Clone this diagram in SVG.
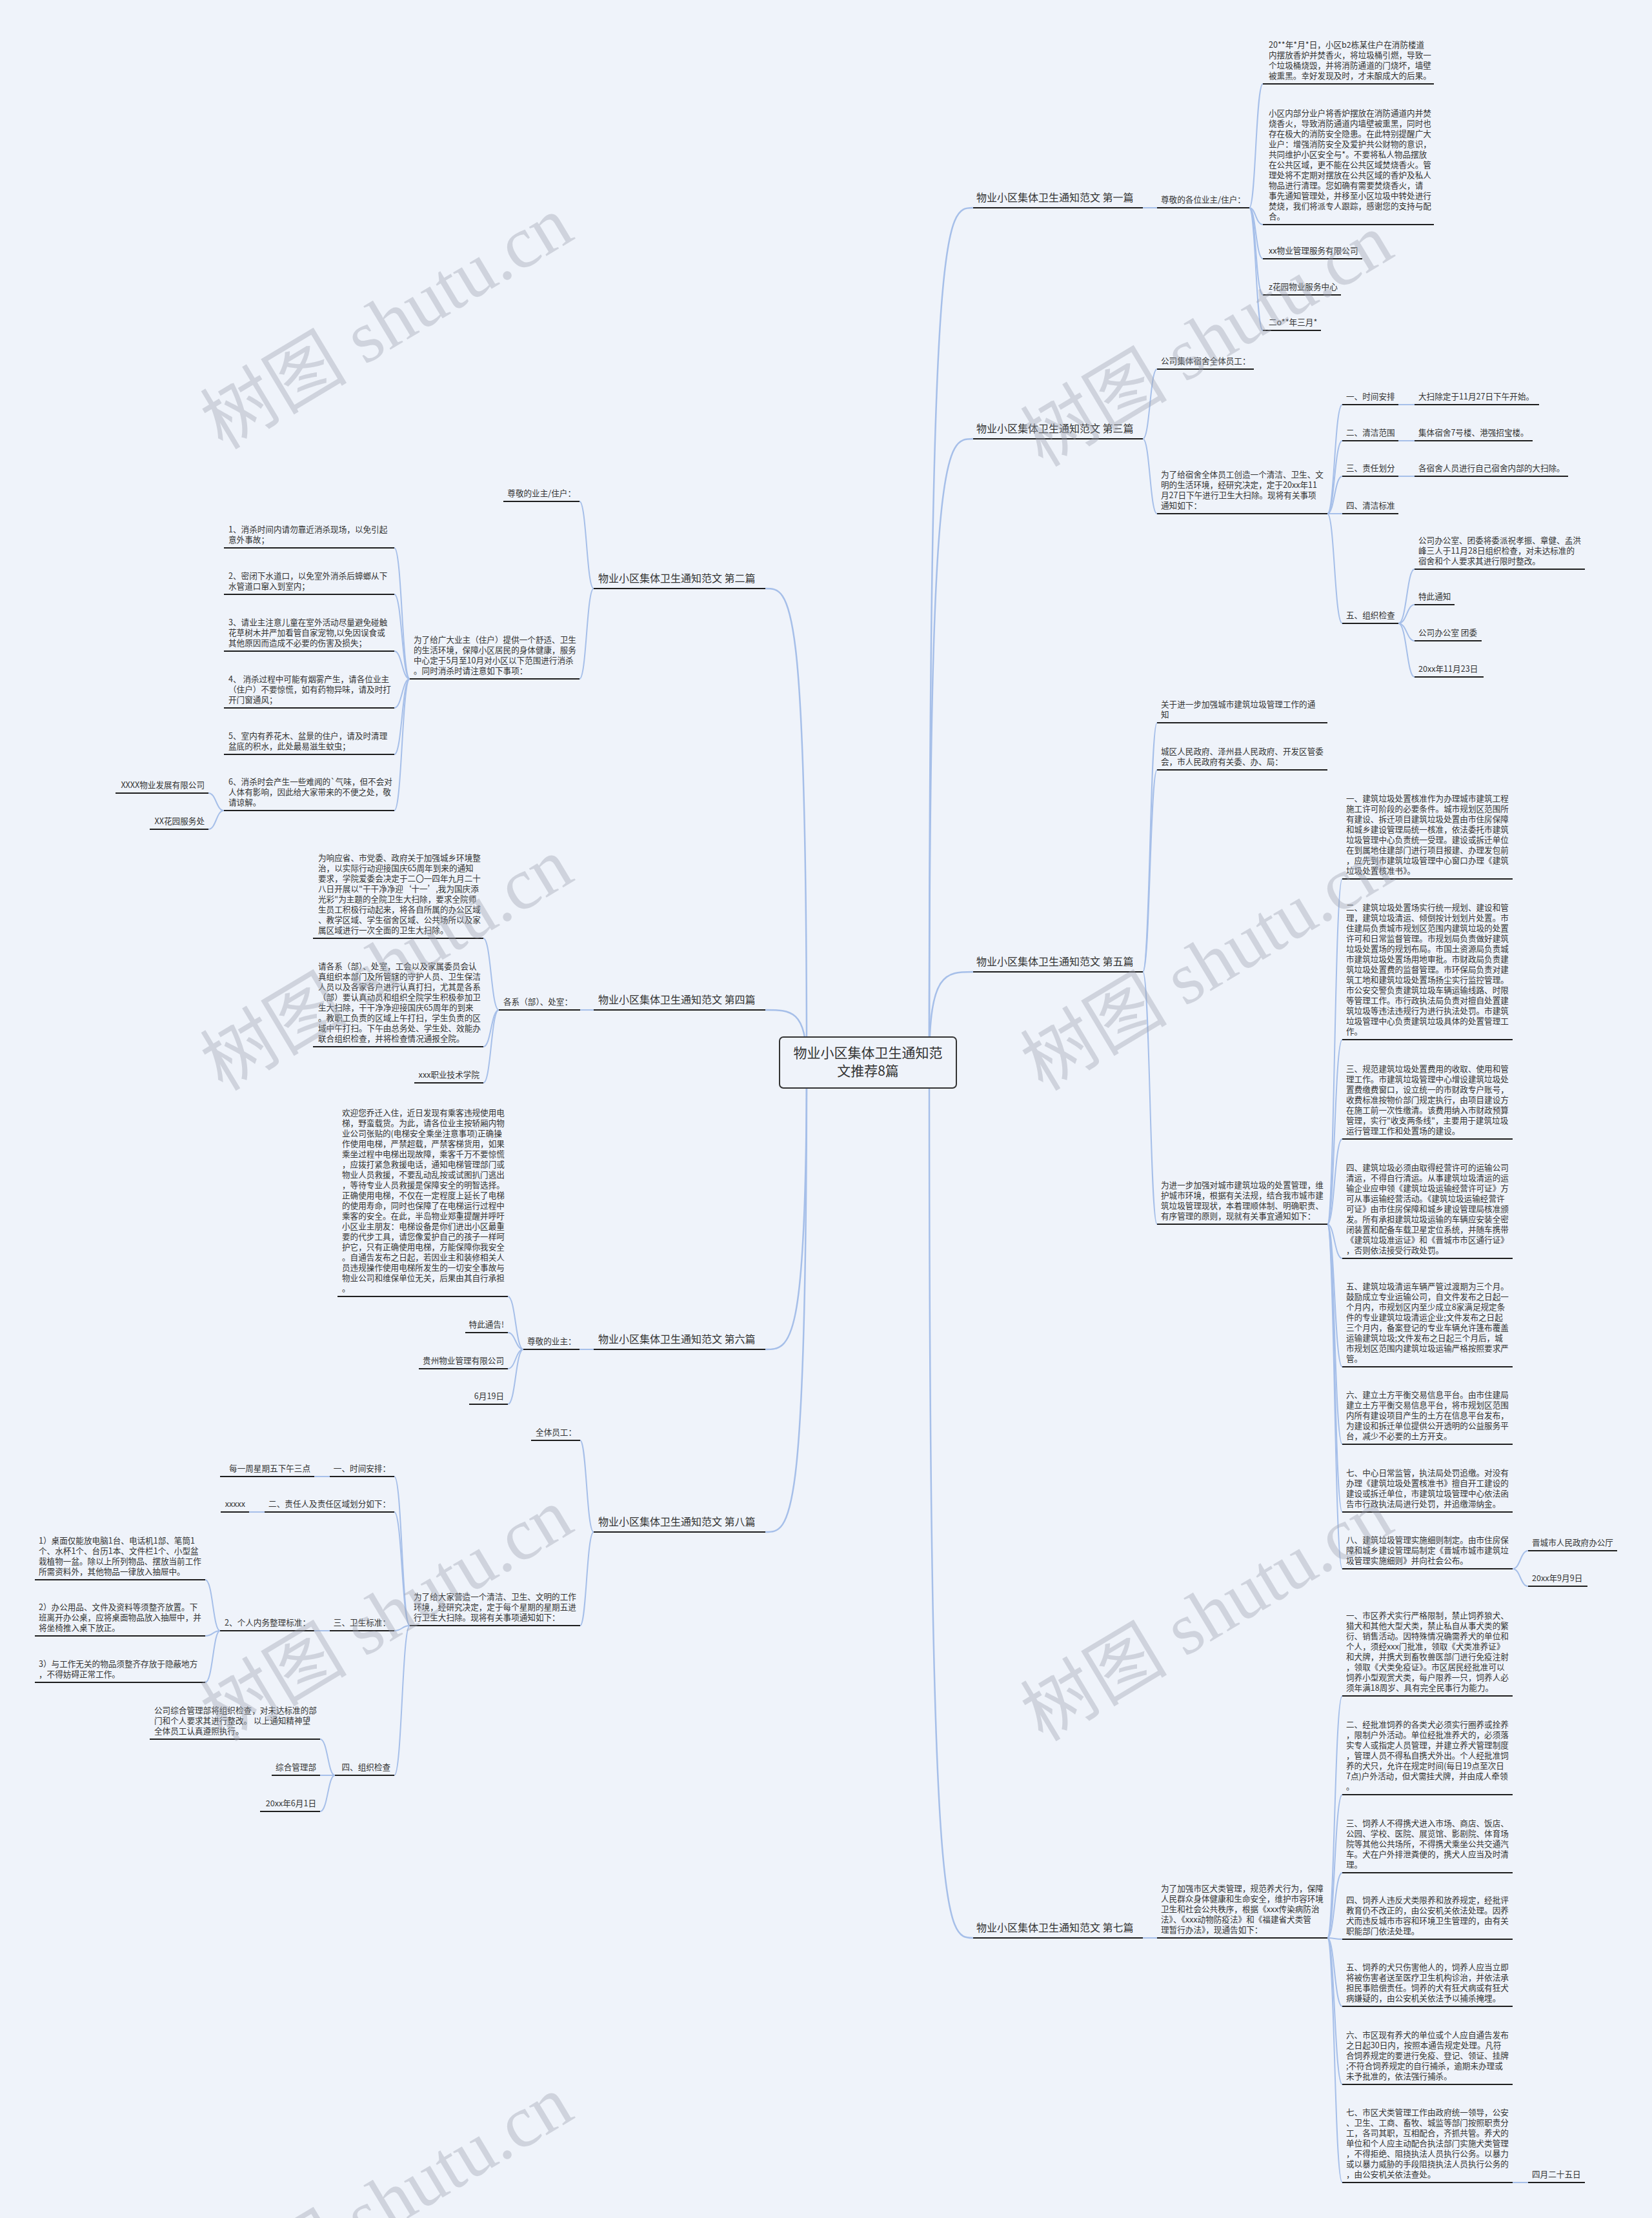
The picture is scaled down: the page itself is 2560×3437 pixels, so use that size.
<svg xmlns="http://www.w3.org/2000/svg" width="2560" height="3437" viewBox="0 0 2560 3437">
<style>
text{font-family:"Noto Sans CJK SC","Noto Sans",sans-serif;fill:#333;}
.t{font-size:12.6px;}
.e{font-size:12.6px;text-anchor:end;}
.b{font-size:16px;}
.r{font-size:21px;text-anchor:middle;}
.u{stroke:#1e1e1e;stroke-width:2;fill:none;}
.c{stroke:#a6bfe9;stroke-width:2;fill:none;}
.m{stroke:#a6bfe9;stroke-width:2.5;fill:none;}
.w{font-family:"Liberation Serif","Noto Sans CJK SC",serif;font-size:114px;fill:#9aa1ad;fill-opacity:0.38;}
</style>
<rect width="2560" height="3437" fill="#eff3fa"/>

<g id="connectors">
<path class="m" d="M1440 1646 C1440 322 1465 322 1508 322"/>
<path class="m" d="M1440 1646 C1440 680 1465 680 1508 680"/>
<path class="m" d="M1440 1646 C1440 1506 1465 1506 1508 1506"/>
<path class="m" d="M1440 1646 C1440 3003 1465 3003 1508 3003"/>
<path class="m" d="M1250 1646 C1250 912 1225 912 1186 912"/>
<path class="m" d="M1250 1646 C1250 1565 1225 1565 1186 1565"/>
<path class="m" d="M1250 1646 C1250 2091 1225 2091 1186 2091"/>
<path class="m" d="M1250 1646 C1250 2374 1225 2374 1186 2374"/>
<!-- p1 -->
<path class="c" d="M1771 322 H1793"/>
<path class="c" d="M1936 322 C1946 322 1946 130 1957 130"/>
<path class="c" d="M1936 322 C1946 322 1946 348 1957 348"/>
<path class="c" d="M1936 322 C1946 322 1946 401 1957 401"/>
<path class="c" d="M1936 322 C1946 322 1946 457 1957 457"/>
<path class="c" d="M1936 322 C1946 322 1946 512 1957 512"/>
<!-- p3 -->
<path class="c" d="M1771 680 C1782 680 1782 572 1793 572"/>
<path class="c" d="M1771 680 C1782 680 1782 796 1793 796"/>
<path class="c" d="M2057 796 C2068 796 2068 627 2080 627"/>
<path class="c" d="M2057 796 C2068 796 2068 683 2080 683"/>
<path class="c" d="M2057 796 C2068 796 2068 738 2080 738"/>
<path class="c" d="M2057 796 H2080"/>
<path class="c" d="M2057 796 C2068 796 2068 966 2080 966"/>
<path class="c" d="M2167 627 H2192 M2167 683 H2192 M2167 738 H2192"/>
<path class="c" d="M2167 966 C2180 966 2180 882 2192 882"/>
<path class="c" d="M2167 966 C2180 966 2180 937 2192 937"/>
<path class="c" d="M2167 966 C2180 966 2180 993 2192 993"/>
<path class="c" d="M2167 966 C2180 966 2180 1049 2192 1049"/>
<!-- p5 -->
<path class="c" d="M1771 1506 C1782 1506 1782 1120 1793 1120"/>
<path class="c" d="M1771 1506 C1782 1506 1782 1193 1793 1193"/>
<path class="c" d="M1771 1506 C1782 1506 1782 1897 1793 1897"/>
<path class="c" d="M2057 1897 C2068 1897 2068 1362 2080 1362"/>
<path class="c" d="M2057 1897 C2068 1897 2068 1611 2080 1611"/>
<path class="c" d="M2057 1897 C2068 1897 2068 1765 2080 1765"/>
<path class="c" d="M2057 1897 C2068 1897 2068 1950 2080 1950"/>
<path class="c" d="M2057 1897 C2068 1897 2068 2118 2080 2118"/>
<path class="c" d="M2057 1897 C2068 1897 2068 2238 2080 2238"/>
<path class="c" d="M2057 1897 C2068 1897 2068 2343 2080 2343"/>
<path class="c" d="M2057 1897 C2068 1897 2068 2431 2080 2431"/>
<path class="c" d="M2344 2431 C2356 2431 2356 2403 2368 2403"/>
<path class="c" d="M2344 2431 C2356 2431 2356 2458 2368 2458"/>
<!-- p7 -->
<path class="c" d="M1771 3003 H1793"/>
<path class="c" d="M2057 3003 C2068 3003 2068 2628 2080 2628"/>
<path class="c" d="M2057 3003 C2068 3003 2068 2781 2080 2781"/>
<path class="c" d="M2057 3003 C2068 3003 2068 2902 2080 2902"/>
<path class="c" d="M2057 3003 C2068 3003 2068 3005 2080 3005"/>
<path class="c" d="M2057 3003 C2068 3003 2068 3109 2080 3109"/>
<path class="c" d="M2057 3003 C2068 3003 2068 3230 2080 3230"/>
<path class="c" d="M2057 3003 C2068 3003 2068 3382 2080 3382"/>
<path class="c" d="M2344 3382 H2368"/>
<!-- p2 -->
<path class="c" d="M920 912 C909 912 909 777 898 777"/>
<path class="c" d="M920 912 C909 912 909 1052 898 1052"/>
<path class="c" d="M635 1052 C623 1052 623 849 611 849"/>
<path class="c" d="M635 1052 C623 1052 623 921 611 921"/>
<path class="c" d="M635 1052 C623 1052 623 1009 611 1009"/>
<path class="c" d="M635 1052 C623 1052 623 1097 611 1097"/>
<path class="c" d="M635 1052 C623 1052 623 1169 611 1169"/>
<path class="c" d="M635 1052 C623 1052 623 1256 611 1256"/>
<path class="c" d="M347 1256 C335 1256 335 1229 323 1229"/>
<path class="c" d="M347 1256 C335 1256 335 1285 323 1285"/>
<!-- p4 -->
<path class="c" d="M920 1565 H899"/>
<path class="c" d="M773 1565 C761 1565 761 1454 749 1454"/>
<path class="c" d="M773 1565 C761 1565 761 1622 749 1622"/>
<path class="c" d="M773 1565 C761 1565 761 1678 749 1678"/>
<!-- p6 -->
<path class="c" d="M920 2091 H898"/>
<path class="c" d="M811 2091 C799 2091 799 2009 787 2009"/>
<path class="c" d="M811 2091 C799 2091 799 2065 787 2065"/>
<path class="c" d="M811 2091 C799 2091 799 2121 787 2121"/>
<path class="c" d="M811 2091 C799 2091 799 2176 787 2176"/>
<!-- p8 -->
<path class="c" d="M920 2374 C909 2374 909 2232 899 2232"/>
<path class="c" d="M920 2374 C909 2374 909 2519 899 2519"/>
<path class="c" d="M635 2519 C623 2519 623 2288 611 2288"/>
<path class="c" d="M635 2519 C623 2519 623 2343 611 2343"/>
<path class="c" d="M635 2519 C623 2519 623 2527 611 2527"/>
<path class="c" d="M635 2519 C623 2519 623 2751 611 2751"/>
<path class="c" d="M511 2288 H487 M410 2343 H386 M511 2527 H487"/>
<path class="c" d="M341 2527 C330 2527 330 2448 318 2448"/>
<path class="c" d="M341 2527 C330 2527 330 2535 318 2535"/>
<path class="c" d="M341 2527 C330 2527 330 2607 318 2607"/>
<path class="c" d="M519 2751 C508 2751 508 2695 496 2695"/>
<path class="c" d="M519 2751 H496"/>
<path class="c" d="M519 2751 C508 2751 508 2807 496 2807"/>
</g>

<g id="root">
<rect x="1208" y="1607" width="274" height="79" rx="6" fill="#eff3fa" stroke="#333" stroke-width="2"/>
<text class="r"><tspan x="1345" y="1639">物业小区集体卫生通知范</tspan><tspan x="1345" y="1667">文推荐8篇</tspan></text>
</g>

<!-- ============ 第一篇 ============ -->
<g id="p1">
<text class="b" x="1513" y="312">物业小区集体卫生通知范文 第一篇</text>
<path class="u" d="M1508 322 H1771"/>
</g>
<g id="p1-a">
<text class="t" x="1799" y="314">尊敬的各位业主/住户：</text>
<path class="u" d="M1793 322 H1936"/>
</g>
<g id="p1-l1">
<text class="t"><tspan x="1966" y="74">20**年*月*日，小区b2栋某住户在消防楼道</tspan><tspan x="1966" y="90">内摆放香炉并焚香火，将垃圾桶引燃，导致一</tspan><tspan x="1966" y="106">个垃圾桶烧毁，并将消防通道的门烧坏，墙壁</tspan><tspan x="1966" y="122">被熏黑。幸好发现及时，才未酿成大的后果。</tspan></text>
<path class="u" d="M1957 130 H2222"/>
</g>
<g id="p1-l2">
<text class="t"><tspan x="1966" y="180">小区内部分业户将香炉摆放在消防通道内并焚</tspan><tspan x="1966" y="196">烧香火，导致消防通道内墙壁被熏黑，同时也</tspan><tspan x="1966" y="212">存在极大的消防安全隐患。在此特别提醒广大</tspan><tspan x="1966" y="228">业户：增强消防安全及爱护共公财物的意识，</tspan><tspan x="1966" y="244">共同维护小区安全与*。不要将私人物品摆放</tspan><tspan x="1966" y="260">在公共区域，更不能在公共区域焚烧香火。管</tspan><tspan x="1966" y="276">理处将不定期对摆放在公共区域的香炉及私人</tspan><tspan x="1966" y="292">物品进行清理。您如确有需要焚烧香火，请</tspan><tspan x="1966" y="308">事先通知管理处，并移至小区垃圾中转处进行</tspan><tspan x="1966" y="324">焚烧，我们将派专人跟踪，感谢您的支持与配</tspan><tspan x="1966" y="340">合。</tspan></text>
<path class="u" d="M1957 348 H2222"/>
</g>
<g id="p1-l3"><text class="t" x="1966" y="393">xx物业管理服务有限公司</text><path class="u" d="M1957 401 H2111"/></g>
<g id="p1-l4"><text class="t" x="1966" y="449">z花园物业服务中心</text><path class="u" d="M1957 457 H2078"/></g>
<g id="p1-l5"><text class="t" x="1966" y="504">二o**年三月*</text><path class="u" d="M1957 512 H2047"/></g>

<!-- ============ 第三篇 ============ -->
<g id="p3">
<text class="b" x="1513" y="670">物业小区集体卫生通知范文 第三篇</text>
<path class="u" d="M1508 680 H1771"/>
</g>
<g id="p3-a"><text class="t" x="1799" y="564">公司集体宿舍全体员工：</text><path class="u" d="M1793 572 H1943"/></g>
<g id="p3-b">
<text class="t"><tspan x="1799" y="740">为了给宿舍全体员工创造一个清洁、卫生、文</tspan><tspan x="1799" y="756">明的生活环境，经研究决定，定于20xx年11</tspan><tspan x="1799" y="772">月27日下午进行卫生大扫除。现将有关事项</tspan><tspan x="1799" y="788">通知如下：</tspan></text>
<path class="u" d="M1793 796 H2057"/>
</g>
<g id="p3-s1"><text class="t" x="2086" y="619">一、时间安排</text><path class="u" d="M2080 627 H2167"/></g>
<g id="p3-s2"><text class="t" x="2086" y="675">二、清洁范围</text><path class="u" d="M2080 683 H2167"/></g>
<g id="p3-s3"><text class="t" x="2086" y="730">三、责任划分</text><path class="u" d="M2080 738 H2167"/></g>
<g id="p3-s4"><text class="t" x="2086" y="788">四、清洁标准</text><path class="u" d="M2080 796 H2167"/></g>
<g id="p3-s5"><text class="t" x="2086" y="958">五、组织检查</text><path class="u" d="M2080 966 H2167"/></g>
<g id="p3-l1"><text class="t" x="2198" y="619">大扫除定于11月27日下午开始。</text><path class="u" d="M2192 627 H2385"/></g>
<g id="p3-l2"><text class="t" x="2198" y="675">集体宿舍7号楼、港强招宝楼。</text><path class="u" d="M2192 683 H2375"/></g>
<g id="p3-l3"><text class="t" x="2198" y="730">各宿舍人员进行自己宿舍内部的大扫除。</text><path class="u" d="M2192 738 H2430"/></g>
<g id="p3-l4">
<text class="t"><tspan x="2198" y="842">公司办公室、团委将委派祝孝振、章健、孟洪</tspan><tspan x="2198" y="858">峰三人于11月28日组织检查，对未达标准的</tspan><tspan x="2198" y="874">宿舍和个人要求其进行限时整改。</tspan></text>
<path class="u" d="M2192 882 H2456"/>
</g>
<g id="p3-l5"><text class="t" x="2198" y="929">特此通知</text><path class="u" d="M2192 937 H2254"/></g>
<g id="p3-l6"><text class="t" x="2198" y="985">公司办公室 团委</text><path class="u" d="M2192 993 H2296"/></g>
<g id="p3-l7"><text class="t" x="2198" y="1041">20xx年11月23日</text><path class="u" d="M2192 1049 H2299"/></g>

<!-- ============ 第五篇 ============ -->
<g id="p5">
<text class="b" x="1513" y="1496">物业小区集体卫生通知范文 第五篇</text>
<path class="u" d="M1508 1506 H1771"/>
</g>
<g id="p5-a">
<text class="t"><tspan x="1799" y="1096">关于进一步加强城市建筑垃圾管理工作的通</tspan><tspan x="1799" y="1112">知</tspan></text>
<path class="u" d="M1793 1120 H2057"/>
</g>
<g id="p5-b">
<text class="t"><tspan x="1799" y="1169">城区人民政府、泽州县人民政府、开发区管委</tspan><tspan x="1799" y="1185">会，市人民政府有关委、办、局：</tspan></text>
<path class="u" d="M1793 1193 H2057"/>
</g>
<g id="p5-c">
<text class="t"><tspan x="1799" y="1841">为进一步加强对城市建筑垃圾的处置管理，维</tspan><tspan x="1799" y="1857">护城市环境，根据有关法规，结合我市城市建</tspan><tspan x="1799" y="1873">筑垃圾管理现状，本着理顺体制、明确职责、</tspan><tspan x="1799" y="1889">有序管理的原则，现就有关事宜通知如下：</tspan></text>
<path class="u" d="M1793 1897 H2057"/>
</g>
<g id="p5-l1">
<text class="t"><tspan x="2086" y="1242">一、建筑垃圾处置核准作为办理城市建筑工程</tspan><tspan x="2086" y="1258">施工许可阶段的必要条件。城市规划区范围所</tspan><tspan x="2086" y="1274">有建设、拆迁项目建筑垃圾处置由市住房保障</tspan><tspan x="2086" y="1290">和城乡建设管理局统一核准，依法委托市建筑</tspan><tspan x="2086" y="1306">垃圾管理中心负责统一受理。建设或拆迁单位</tspan><tspan x="2086" y="1322">在到属地住建部门进行项目报建、办理发包前</tspan><tspan x="2086" y="1338">，应先到市建筑垃圾管理中心窗口办理《建筑</tspan><tspan x="2086" y="1354">垃圾处置核准书》。</tspan></text>
<path class="u" d="M2080 1362 H2344"/>
</g>
<g id="p5-l2">
<text class="t"><tspan x="2086" y="1411">二、建筑垃圾处置场实行统一规划、建设和管</tspan><tspan x="2086" y="1427">理，建筑垃圾清运、倾倒按计划划片处置。市</tspan><tspan x="2086" y="1443">住建局负责城市规划区范围内建筑垃圾的处置</tspan><tspan x="2086" y="1459">许可和日常监督管理。市规划局负责做好建筑</tspan><tspan x="2086" y="1475">垃圾处置场的规划布局。市国土资源局负责城</tspan><tspan x="2086" y="1491">市建筑垃圾处置场用地审批。市财政局负责建</tspan><tspan x="2086" y="1507">筑垃圾处置费的监督管理。市环保局负责对建</tspan><tspan x="2086" y="1523">筑工地和建筑垃圾处置场扬尘实行监控管理。</tspan><tspan x="2086" y="1539">市公安交警负责建筑垃圾车辆运输线路、时限</tspan><tspan x="2086" y="1555">等管理工作。市行政执法局负责对擅自处置建</tspan><tspan x="2086" y="1571">筑垃圾等违法违规行为进行执法处罚。市建筑</tspan><tspan x="2086" y="1587">垃圾管理中心负责建筑垃圾具体的处置管理工</tspan><tspan x="2086" y="1603">作。</tspan></text>
<path class="u" d="M2080 1611 H2344"/>
</g>
<g id="p5-l3">
<text class="t"><tspan x="2086" y="1661">三、规范建筑垃圾处置费用的收取、使用和管</tspan><tspan x="2086" y="1677">理工作。市建筑垃圾管理中心增设建筑垃圾处</tspan><tspan x="2086" y="1693">置费缴费窗口，设立统一的市财政专户账号，</tspan><tspan x="2086" y="1709">收费标准按物价部门规定执行，由项目建设方</tspan><tspan x="2086" y="1725">在施工前一次性缴清。该费用纳入市财政预算</tspan><tspan x="2086" y="1741">管理，实行"收支两条线"，主要用于建筑垃圾</tspan><tspan x="2086" y="1757">运行管理工作和处置场的建设。</tspan></text>
<path class="u" d="M2080 1765 H2344"/>
</g>
<g id="p5-l4">
<text class="t"><tspan x="2086" y="1814">四、建筑垃圾必须由取得经营许可的运输公司</tspan><tspan x="2086" y="1830">清运，不得自行清运。从事建筑垃圾清运的运</tspan><tspan x="2086" y="1846">输企业应申领《建筑垃圾运输经营许可证》方</tspan><tspan x="2086" y="1862">可从事运输经营活动。《建筑垃圾运输经营许</tspan><tspan x="2086" y="1878">可证》由市住房保障和城乡建设管理局核准颁</tspan><tspan x="2086" y="1894">发。所有承担建筑垃圾运输的车辆应安装全密</tspan><tspan x="2086" y="1910">闭装置和配备车载卫星定位系统，并随车携带</tspan><tspan x="2086" y="1926">《建筑垃圾准运证》和《晋城市市区通行证》</tspan><tspan x="2086" y="1942">，否则依法接受行政处罚。</tspan></text>
<path class="u" d="M2080 1950 H2344"/>
</g>
<g id="p5-l5">
<text class="t"><tspan x="2086" y="1998">五、建筑垃圾清运车辆严管过渡期为三个月。</tspan><tspan x="2086" y="2014">鼓励成立专业运输公司，自文件发布之日起一</tspan><tspan x="2086" y="2030">个月内，市规划区内至少成立8家满足规定条</tspan><tspan x="2086" y="2046">件的专业建筑垃圾清运企业;文件发布之日起</tspan><tspan x="2086" y="2062">三个月内，备案登记的专业车辆允许篷布覆盖</tspan><tspan x="2086" y="2078">运输建筑垃圾;文件发布之日起三个月后，城</tspan><tspan x="2086" y="2094">市规划区范围内建筑垃圾运输严格按照要求严</tspan><tspan x="2086" y="2110">管。</tspan></text>
<path class="u" d="M2080 2118 H2344"/>
</g>
<g id="p5-l6">
<text class="t"><tspan x="2086" y="2166">六、建立土方平衡交易信息平台。由市住建局</tspan><tspan x="2086" y="2182">建立土方平衡交易信息平台，将市规划区范围</tspan><tspan x="2086" y="2198">内所有建设项目产生的土方在信息平台发布，</tspan><tspan x="2086" y="2214">为建设和拆迁单位提供公开透明的公益服务平</tspan><tspan x="2086" y="2230">台，减少不必要的土方开支。</tspan></text>
<path class="u" d="M2080 2238 H2344"/>
</g>
<g id="p5-l7">
<text class="t"><tspan x="2086" y="2287">七、中心日常监管，执法局处罚追缴。对没有</tspan><tspan x="2086" y="2303">办理《建筑垃圾处置核准书》擅自开工建设的</tspan><tspan x="2086" y="2319">建设或拆迁单位，市建筑垃圾管理中心依法函</tspan><tspan x="2086" y="2335">告市行政执法局进行处罚，并追缴滞纳金。</tspan></text>
<path class="u" d="M2080 2343 H2344"/>
</g>
<g id="p5-l8">
<text class="t"><tspan x="2086" y="2391">八、建筑垃圾管理实施细则制定。由市住房保</tspan><tspan x="2086" y="2407">障和城乡建设管理局制定《晋城市城市建筑垃</tspan><tspan x="2086" y="2423">圾管理实施细则》并向社会公布。</tspan></text>
<path class="u" d="M2080 2431 H2344"/>
</g>
<g id="p5-l9"><text class="t" x="2374" y="2395">晋城市人民政府办公厅</text><path class="u" d="M2368 2403 H2506"/></g>
<g id="p5-l10"><text class="t" x="2374" y="2450">20xx年9月9日</text><path class="u" d="M2368 2458 H2460"/></g>

<!-- ============ 第七篇 ============ -->
<g id="p7">
<text class="b" x="1513" y="2993">物业小区集体卫生通知范文 第七篇</text>
<path class="u" d="M1508 3003 H1771"/>
</g>
<g id="p7-a">
<text class="t"><tspan x="1799" y="2931">为了加强市区犬类管理，规范养犬行为，保障</tspan><tspan x="1799" y="2947">人民群众身体健康和生命安全，维护市容环境</tspan><tspan x="1799" y="2963">卫生和社会公共秩序，根据《xxx传染病防治</tspan><tspan x="1799" y="2979">法》、《xxx动物防疫法》和《福建省犬类管</tspan><tspan x="1799" y="2995">理暂行办法》，现通告如下：</tspan></text>
<path class="u" d="M1793 3003 H2057"/>
</g>
<g id="p7-l1">
<text class="t"><tspan x="2086" y="2508">一、市区养犬实行严格限制，禁止饲养狼犬、</tspan><tspan x="2086" y="2524">猎犬和其他大型犬类，禁止私自从事犬类的繁</tspan><tspan x="2086" y="2540">衍、销售活动。因特殊情况确需养犬的单位和</tspan><tspan x="2086" y="2556">个人，须经xxx门批准，领取《犬类准养证》</tspan><tspan x="2086" y="2572">和犬牌，并携犬到畜牧兽医部门进行免疫注射</tspan><tspan x="2086" y="2588">，领取《犬类免疫证》。市区居民经批准可以</tspan><tspan x="2086" y="2604">饲养小型观赏犬类，每户限养一只，饲养人必</tspan><tspan x="2086" y="2620">须年满18周岁、具有完全民事行为能力。</tspan></text>
<path class="u" d="M2080 2628 H2344"/>
</g>
<g id="p7-l2">
<text class="t"><tspan x="2086" y="2677">二、经批准饲养的各类犬必须实行圈养或拴养</tspan><tspan x="2086" y="2693">，限制户外活动。单位经批准养犬的，必须落</tspan><tspan x="2086" y="2709">实专人或指定人员管理，并建立养犬管理制度</tspan><tspan x="2086" y="2725">，管理人员不得私自携犬外出。个人经批准饲</tspan><tspan x="2086" y="2741">养的犬只，允许在规定时间(每日19点至次日</tspan><tspan x="2086" y="2757">7点)户外活动，但犬需挂犬牌，并由成人牵领</tspan><tspan x="2086" y="2773">。</tspan></text>
<path class="u" d="M2080 2781 H2344"/>
</g>
<g id="p7-l3">
<text class="t"><tspan x="2086" y="2830">三、饲养人不得携犬进入市场、商店、饭店、</tspan><tspan x="2086" y="2846">公园、学校、医院、展览馆、影剧院、体育场</tspan><tspan x="2086" y="2862">院等其他公共场所，不得携犬乘坐公共交通汽</tspan><tspan x="2086" y="2878">车。犬在户外排泄粪便的，携犬人应当及时清</tspan><tspan x="2086" y="2894">理。</tspan></text>
<path class="u" d="M2080 2902 H2344"/>
</g>
<g id="p7-l4">
<text class="t"><tspan x="2086" y="2949">四、饲养人违反犬类限养和放养规定，经批评</tspan><tspan x="2086" y="2965">教育仍不改正的，由公安机关依法处理。因养</tspan><tspan x="2086" y="2981">犬而违反城市市容和环境卫生管理的，由有关</tspan><tspan x="2086" y="2997">职能部门依法处理。</tspan></text>
<path class="u" d="M2080 3005 H2344"/>
</g>
<g id="p7-l5">
<text class="t"><tspan x="2086" y="3053">五、饲养的犬只伤害他人的，饲养人应当立即</tspan><tspan x="2086" y="3069">将被伤害者送至医疗卫生机构诊治，并依法承</tspan><tspan x="2086" y="3085">担民事赔偿责任。饲养的犬有狂犬病或有狂犬</tspan><tspan x="2086" y="3101">病嫌疑的，由公安机关依法予以捕杀掩埋。</tspan></text>
<path class="u" d="M2080 3109 H2344"/>
</g>
<g id="p7-l6">
<text class="t"><tspan x="2086" y="3158">六、市区现有养犬的单位或个人应自通告发布</tspan><tspan x="2086" y="3174">之日起30日内，按照本通告规定处理。凡符</tspan><tspan x="2086" y="3190">合饲养规定的要进行免疫、登记、领证、挂牌</tspan><tspan x="2086" y="3206">;不符合饲养规定的自行捕杀，逾期未办理或</tspan><tspan x="2086" y="3222">未予批准的，依法强行捕杀。</tspan></text>
<path class="u" d="M2080 3230 H2344"/>
</g>
<g id="p7-l7">
<text class="t"><tspan x="2086" y="3278">七、市区犬类管理工作由政府统一领导，公安</tspan><tspan x="2086" y="3294">、卫生、工商、畜牧、城监等部门按照职责分</tspan><tspan x="2086" y="3310">工，各司其职，互相配合，齐抓共管。养犬的</tspan><tspan x="2086" y="3326">单位和个人应主动配合执法部门实施犬类管理</tspan><tspan x="2086" y="3342">，不得拒绝、阻挠执法人员执行公务。以暴力</tspan><tspan x="2086" y="3358">或以暴力威胁的手段阻挠执法人员执行公务的</tspan><tspan x="2086" y="3374">，由公安机关依法查处。</tspan></text>
<path class="u" d="M2080 3382 H2344"/>
</g>
<g id="p7-l8"><text class="t" x="2374" y="3374">四月二十五日</text><path class="u" d="M2368 3382 H2456"/></g>

<!-- ============ 第二篇 ============ -->
<g id="p2">
<text class="b" x="927" y="902">物业小区集体卫生通知范文 第二篇</text>
<path class="u" d="M920 912 H1186"/>
</g>
<g id="p2-a"><text class="e" x="892" y="769">尊敬的业主/住户：</text><path class="u" d="M780 777 H898"/></g>
<g id="p2-b">
<text class="t"><tspan x="641" y="996">为了给广大业主（住户）提供一个舒适、卫生</tspan><tspan x="641" y="1012">的生活环境，保障小区居民的身体健康，服务</tspan><tspan x="641" y="1028">中心定于5月至10月对小区以下范围进行消杀</tspan><tspan x="641" y="1044">。同时消杀时请注意如下事项：</tspan></text>
<path class="u" d="M635 1052 H898"/>
</g>
<g id="p2-l1">
<text class="t"><tspan x="354" y="825">1、消杀时间内请勿靠近消杀现场，以免引起</tspan><tspan x="354" y="841">意外事故；</tspan></text>
<path class="u" d="M347 849 H611"/>
</g>
<g id="p2-l2">
<text class="t"><tspan x="354" y="897">2、密闭下水道口，以免室外消杀后蟑螂从下</tspan><tspan x="354" y="913">水管道口窜入到室内；</tspan></text>
<path class="u" d="M347 921 H611"/>
</g>
<g id="p2-l3">
<text class="t"><tspan x="354" y="969">3、请业主注意儿童在室外活动尽量避免碰触</tspan><tspan x="354" y="985">花草树木并严加看管自家宠物,以免因误食或</tspan><tspan x="354" y="1001">其他原因而造成不必要的伤害及损失；</tspan></text>
<path class="u" d="M347 1009 H611"/>
</g>
<g id="p2-l4">
<text class="t"><tspan x="354" y="1057">4、 消杀过程中可能有烟雾产生，请各位业主</tspan><tspan x="354" y="1073">（住户）不要惊慌，如有药物异味，请及时打</tspan><tspan x="354" y="1089">开门窗通风；</tspan></text>
<path class="u" d="M347 1097 H611"/>
</g>
<g id="p2-l5">
<text class="t"><tspan x="354" y="1145">5、室内有养花木、盆景的住户，请及时清理</tspan><tspan x="354" y="1161">盆底的积水，此处最易滋生蚊虫；</tspan></text>
<path class="u" d="M347 1169 H611"/>
</g>
<g id="p2-l6">
<text class="t"><tspan x="354" y="1216">6、消杀时会产生一些难闻的`气味，但不会对</tspan><tspan x="354" y="1232">人体有影响，因此给大家带来的不便之处，敬</tspan><tspan x="354" y="1248">请谅解。</tspan></text>
<path class="u" d="M347 1256 H611"/>
</g>
<g id="p2-l7"><text class="e" x="317" y="1221">XXXX物业发展有限公司</text><path class="u" d="M179 1229 H323"/></g>
<g id="p2-l8"><text class="e" x="317" y="1277">XX花园服务处</text><path class="u" d="M232 1285 H323"/></g>

<!-- ============ 第四篇 ============ -->
<g id="p4">
<text class="b" x="927" y="1555">物业小区集体卫生通知范文 第四篇</text>
<path class="u" d="M920 1565 H1186"/>
</g>
<g id="p4-a"><text class="t" x="780" y="1557">各系（部）、处室：</text><path class="u" d="M773 1565 H899"/></g>
<g id="p4-l1">
<text class="t"><tspan x="493" y="1334">为响应省、市党委、政府关于加强城乡环境整</tspan><tspan x="493" y="1350">治，以实际行动迎接国庆65周年到来的通知</tspan><tspan x="493" y="1366">要求，学院爱委会决定于二〇一四年九月二十</tspan><tspan x="493" y="1382">八日开展以"干干净净迎‘十一’,我为国庆添</tspan><tspan x="493" y="1398">光彩"为主题的全院卫生大扫除，要求全院师</tspan><tspan x="493" y="1414">生员工积极行动起来，将各自所属的办公区域</tspan><tspan x="493" y="1430">、教学区域、学生宿舍区域、公共场所以及家</tspan><tspan x="493" y="1446">属区域进行一次全面的卫生大扫除。</tspan></text>
<path class="u" d="M485 1454 H749"/>
</g>
<g id="p4-l2">
<text class="t"><tspan x="493" y="1502">请各系（部）、处室，工会以及家属委员会认</tspan><tspan x="493" y="1518">真组织本部门及所管辖的守护人员、卫生保洁</tspan><tspan x="493" y="1534">人员以及各家各户进行认真打扫，尤其是各系</tspan><tspan x="493" y="1550">（部）要认真动员和组织全院学生积极参加卫</tspan><tspan x="493" y="1566">生大扫除，干干净净迎接国庆65周年的到来</tspan><tspan x="493" y="1582">。教职工负责的区域上午打扫，学生负责的区</tspan><tspan x="493" y="1598">域中午打扫。下午由总务处、学生处、效能办</tspan><tspan x="493" y="1614">联合组织检查，并将检查情况通报全院。</tspan></text>
<path class="u" d="M485 1622 H749"/>
</g>
<g id="p4-l3"><text class="e" x="743" y="1670">xxx职业技术学院</text><path class="u" d="M642 1678 H749"/></g>

<!-- ============ 第六篇 ============ -->
<g id="p6">
<text class="b" x="927" y="2081">物业小区集体卫生通知范文 第六篇</text>
<path class="u" d="M920 2091 H1186"/>
</g>
<g id="p6-a"><text class="t" x="817" y="2083">尊敬的业主：</text><path class="u" d="M811 2091 H898"/></g>
<g id="p6-l1">
<text class="t"><tspan x="530" y="1729">欢迎您乔迁入住，近日发现有乘客违规使用电</tspan><tspan x="530" y="1745">梯，野蛮载货。为此，请各位业主按轿厢内物</tspan><tspan x="530" y="1761">业公司张贴的(电梯安全乘坐注意事项)正确操</tspan><tspan x="530" y="1777">作使用电梯，严禁超载，严禁客梯货用，如果</tspan><tspan x="530" y="1793">乘坐过程中电梯出现故障，乘客千万不要惊慌</tspan><tspan x="530" y="1809">，应拨打紧急救援电话，通知电梯管理部门或</tspan><tspan x="530" y="1825">物业人员救援，不要乱动乱按或试图扒门逃出</tspan><tspan x="530" y="1841">，等待专业人员救援是保障安全的明智选择。</tspan><tspan x="530" y="1857">正确使用电梯，不仅在一定程度上延长了电梯</tspan><tspan x="530" y="1873">的使用寿命，同时也保障了在电梯运行过程中</tspan><tspan x="530" y="1889">乘客的安全。在此，半岛物业郑重提醒并呼吁</tspan><tspan x="530" y="1905">小区业主朋友：电梯设备是你们进出小区最重</tspan><tspan x="530" y="1921">要的代步工具，请您像爱护自己的孩子一样呵</tspan><tspan x="530" y="1937">护它，只有正确使用电梯，方能保障你我安全</tspan><tspan x="530" y="1953">。自通告发布之日起，若因业主和装修相关人</tspan><tspan x="530" y="1969">员违规操作使用电梯所发生的一切安全事故与</tspan><tspan x="530" y="1985">物业公司和维保单位无关，后果由其自行承担</tspan><tspan x="530" y="2001">。</tspan></text>
<path class="u" d="M523 2009 H787"/>
</g>
<g id="p6-l2"><text class="e" x="781" y="2057">特此通告!</text><path class="u" d="M721 2065 H787"/></g>
<g id="p6-l3"><text class="e" x="781" y="2113">贵州物业管理有限公司</text><path class="u" d="M649 2121 H787"/></g>
<g id="p6-l4"><text class="e" x="781" y="2168">6月19日</text><path class="u" d="M727 2176 H787"/></g>

<!-- ============ 第八篇 ============ -->
<g id="p8">
<text class="b" x="927" y="2364">物业小区集体卫生通知范文 第八篇</text>
<path class="u" d="M920 2374 H1186"/>
</g>
<g id="p8-a"><text class="e" x="893" y="2224">全体员工：</text><path class="u" d="M823 2232 H899"/></g>
<g id="p8-b">
<text class="t"><tspan x="641" y="2479">为了给大家营造一个清洁、卫生、文明的工作</tspan><tspan x="641" y="2495">环境，经研究决定，定于每个星期的星期五进</tspan><tspan x="641" y="2511">行卫生大扫除。现将有关事项通知如下：</tspan></text>
<path class="u" d="M635 2519 H899"/>
</g>
<g id="p8-s1"><text class="e" x="605" y="2280">一、时间安排：</text><path class="u" d="M511 2288 H611"/></g>
<g id="p8-s2"><text class="e" x="605" y="2335">二、责任人及责任区域划分如下：</text><path class="u" d="M410 2343 H611"/></g>
<g id="p8-s3"><text class="e" x="605" y="2519">三、卫生标准：</text><path class="u" d="M511 2527 H611"/></g>
<g id="p8-s4"><text class="e" x="605" y="2743">四、组织检查</text><path class="u" d="M519 2751 H611"/></g>
<g id="p8-l1"><text class="e" x="481" y="2280">每一周星期五下午三点</text><path class="u" d="M341 2288 H487"/></g>
<g id="p8-l2"><text class="e" x="380" y="2335">xxxxx</text><path class="u" d="M342 2343 H386"/></g>
<g id="p8-l3"><text class="e" x="481" y="2519">2、个人内务整理标准：</text><path class="u" d="M341 2527 H487"/></g>
<g id="p8-l4">
<text class="t"><tspan x="60" y="2392">1）桌面仅能放电脑1台、电话机1部、笔筒1</tspan><tspan x="60" y="2408">个、水杯1个、台历1本、文件栏1个、小型盆</tspan><tspan x="60" y="2424">栽植物一盆。除以上所列物品、摆放当前工作</tspan><tspan x="60" y="2440">所需资料外，其他物品一律放入抽屉中。</tspan></text>
<path class="u" d="M54 2448 H318"/>
</g>
<g id="p8-l5">
<text class="t"><tspan x="60" y="2495">2）办公用品、文件及资料等须整齐放置。下</tspan><tspan x="60" y="2511">班离开办公桌，应将桌面物品放入抽屉中，并</tspan><tspan x="60" y="2527">将坐椅推入桌下放正。</tspan></text>
<path class="u" d="M54 2535 H318"/>
</g>
<g id="p8-l6">
<text class="t"><tspan x="60" y="2583">3）与工作无关的物品须整齐存放于隐蔽地方</tspan><tspan x="60" y="2599">，不得妨碍正常工作。</tspan></text>
<path class="u" d="M54 2607 H318"/>
</g>
<g id="p8-l7">
<text class="t"><tspan x="239" y="2655">公司综合管理部将组织检查，对未达标准的部</tspan><tspan x="239" y="2671">门和个人要求其进行整改。 以上通知精神望</tspan><tspan x="239" y="2687">全体员工认真遵照执行。</tspan></text>
<path class="u" d="M232 2695 H496"/>
</g>
<g id="p8-l8"><text class="e" x="490" y="2743">综合管理部</text><path class="u" d="M421 2751 H496"/></g>
<g id="p8-l9"><text class="e" x="490" y="2799">20xx年6月1日</text><path class="u" d="M403 2807 H496"/></g>

<g id="watermark">
<text class="w" transform="translate(345 698) rotate(-31)">树图 shutu.cn</text>
<text class="w" transform="translate(1616 725) rotate(-31)">树图 shutu.cn</text>
<text class="w" transform="translate(345 1692) rotate(-31)">树图 shutu.cn</text>
<text class="w" transform="translate(1616 1692) rotate(-31)">树图 shutu.cn</text>
<text class="w" transform="translate(345 2700) rotate(-31)">树图 shutu.cn</text>
<text class="w" transform="translate(1616 2700) rotate(-31)">树图 shutu.cn</text>
<text class="w" transform="translate(345 3610) rotate(-31)">树图 shutu.cn</text>
</g>
</svg>
